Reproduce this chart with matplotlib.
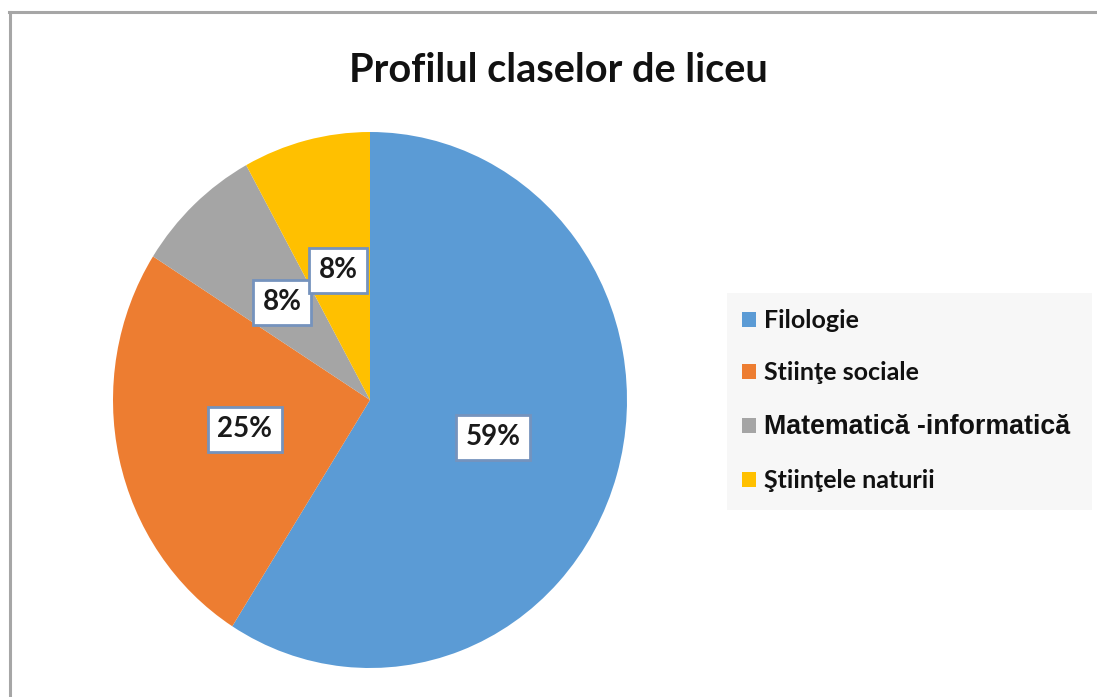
import matplotlib
matplotlib.use("Agg")
import matplotlib.pyplot as plt
from matplotlib.patches import Patch, Rectangle
from matplotlib.lines import Line2D

categories = ["Filologie", "Stiinţe sociale", "Matematică -informatică", "Ştiinţele naturii"]
values = [59, 25, 8, 8]
colors = ["#5B9BD5", "#ED7D31", "#A5A5A5", "#FFC000"]
title = "Profilul claselor de liceu"

W, H = 1097, 697
fig = plt.figure(figsize=(W / 100, H / 100), dpi=100)
fig.patch.set_facecolor("white")

# pie axes (slightly elliptical as in the reference)
cx, cy, rx, ry = 370, 400, 257, 268
ax = fig.add_axes([(cx - rx) / W, (H - cy - ry) / H, 2 * rx / W, 2 * ry / H])
wedges, texts, autotexts = ax.pie(
    values, colors=colors, startangle=90, counterclock=False,
    autopct=lambda p: f"{p:.0f}%", pctdistance=0.5, radius=1,
    wedgeprops=dict(linewidth=0),
    textprops=dict(fontsize=20, fontweight="bold", family=["Lato", "DejaVu Sans"], color="#1a1a1a"),
)
for t in autotexts:
    t.set_bbox(dict(boxstyle="square,pad=0.34", facecolor="white", edgecolor="#7593bd", linewidth=2))
ax.set_aspect("auto")
ax.set_xlim(-1, 1)
ax.set_ylim(-1, 1)
ax.axis("off")

# title
fig.text(558 / W, 1 - 71 / H, title, ha="center", va="center", fontsize=28.5,
         fontweight="bold", family=["Lato", "DejaVu Sans"], color="#111111")

# legend background
fig.patches.append(Rectangle((727 / W, 1 - 510 / H), (1092 - 727) / W, (510 - 293) / H,
                             transform=fig.transFigure, facecolor="#f7f7f7", edgecolor="none", zorder=0))

handles = [Patch(facecolor=c, edgecolor="none") for c in colors]
leg = fig.legend(handles, categories, loc="upper left", bbox_to_anchor=(742 / W, 1 - 309 / H),
                 frameon=False, borderaxespad=0, borderpad=0,
                 prop=dict(family=["Lato", "DejaVu Sans"], weight="bold", size=18),
                 handlelength=0.56, handleheight=0.56, handletextpad=0.3, labelspacing=1.18)
mt = leg.get_texts()[2]
mt.set_fontfamily(["Liberation Sans", "DejaVu Sans"])
mt.set_fontsize(19.3)
for t in leg.get_texts():
    t.set_color("#111111")

# outer frame lines (top and left only, as cropped in the reference)
fig.add_artist(Line2D([9 / W, 1], [1 - 12 / H, 1 - 12 / H], transform=fig.transFigure,
                      color="#a6a6a6", linewidth=2.2))
fig.add_artist(Line2D([10 / W, 10 / W], [0, 1 - 12 / H], transform=fig.transFigure,
                      color="#a6a6a6", linewidth=2.2))

fig.savefig("out.png", dpi=100, facecolor="white")
